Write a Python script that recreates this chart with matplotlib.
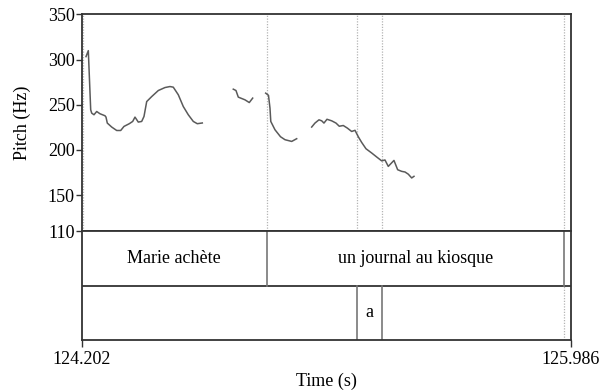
import matplotlib
matplotlib.use("Agg")
import matplotlib.pyplot as plt

plt.rcParams['font.family'] = ['Liberation Serif', 'DejaVu Serif']

t_start, t_end = 124.202, 125.986

# pitch track, one list per voiced stretch
seg1_t = [124.2177, 124.2261, 124.2348, 124.2385, 124.2468, 124.2567, 124.2687, 124.2869,
          124.2906, 124.2953, 124.3114, 124.3296, 124.3442, 124.3562, 124.3755, 124.3879,
          124.3963, 124.4083, 124.4207, 124.4291, 124.4390, 124.4572, 124.4813, 124.5057,
          124.5239, 124.5359, 124.5542, 124.5724, 124.5906, 124.6089, 124.6234, 124.6417]
seg1_f = [303.2, 309.8, 244.4, 240.7, 238.9, 242.5, 240.0, 237.8,
          236.3, 229.7, 225.3, 221.5, 221.5, 226.0, 229.0, 231.5,
          236.3, 230.8, 231.5, 237.0, 253.5, 259.0, 265.7, 269.0,
          270.1, 269.4, 261.0, 248.0, 238.9, 231.5, 229.0, 229.8]
seg2_t = [124.7547, 124.7645, 124.7729, 124.7973, 124.8130, 124.8254]
seg2_f = [267.2, 265.7, 258.4, 255.4, 252.4, 257.3]
seg3_t = [124.8728, 124.8830, 124.8885, 124.8914, 124.9067, 124.9268, 124.9432, 124.9676, 124.9858]
seg3_f = [262.8, 260.4, 246.2, 231.5, 222.3, 214.6, 211.3, 209.4, 212.4]
seg4_t = [125.0405, 125.0525, 125.0671, 125.0770, 125.0853, 125.0963, 125.1134, 125.1291,
          125.1411, 125.1557, 125.1703, 125.1863, 125.1984, 125.2104, 125.2228, 125.2385,
          125.2593, 125.2775, 125.2957, 125.3077, 125.3198, 125.3405, 125.3540, 125.3686,
          125.3807, 125.3927, 125.4051, 125.4135]
seg4_f = [225.3, 229.7, 233.3, 232.2, 229.7, 233.9, 232.2, 229.7,
          226.2, 227.0, 224.2, 220.4, 221.7, 214.6, 208.3, 201.3,
          196.6, 192.2, 187.9, 188.9, 181.8, 188.4, 178.1, 176.3,
          175.6, 173.2, 169.0, 170.8]
segments = [(seg1_t, seg1_f), (seg2_t, seg2_f), (seg3_t, seg3_f), (seg4_t, seg4_f)]

yticks = [110, 150, 200, 250, 300, 350]

# TextGrid tiers
tier1_bounds = [124.208, 124.877, 125.960]
tier1_labels = ["Marie achète", "un journal au kiosque"]
tier2_bounds = [125.205, 125.296]
tier2_labels = ["a"]

W, H = 601, 392
fig = plt.figure(figsize=(W / 100, H / 100), dpi=100)
left, right = 81.7 / W, 571 / W
y_top, y_110, y_tier, y_bot = 14.3, 231.3, 287.0, 340.0
fs = 13

ax = fig.add_axes([left, 1 - y_110 / H, right - left, (y_110 - y_top) / H])
tx = fig.add_axes([left, 1 - y_bot / H, right - left, (y_bot - y_110) / H])

box = '#333333'
for a in (ax, tx):
    a.set_xlim(t_start, t_end)
    for s in a.spines.values():
        s.set_color(box)
        s.set_linewidth(1.3)

# pitch panel
for b in tier1_bounds + tier2_bounds:
    ax.axvline(b, color='#b4b4b4', lw=0.9, ls=(0, (1, 1.2)))
for ts, fs_ in segments:
    ax.plot(ts, fs_, color='#5a5a5a', lw=1.1)
ax.set_ylim(110, 350)
ax.set_yticks(yticks)
ax.set_xticks([])
ax.tick_params(axis='y', direction='out', length=4, width=1, colors=box,
               labelsize=fs, labelcolor='black', pad=1)
ax.set_ylabel("Pitch (Hz)", fontsize=fs, labelpad=12)

# tier panel
tx.set_ylim(0, 2)
tx.axhline(1, color=box, lw=1.3)
tx.set_yticks([])
for b in tier1_bounds[1:]:
    tx.plot([b, b], [1, 2], color='#777777', lw=1.2)
tx.plot([tier1_bounds[-1]] * 2, [0, 1], color='#b4b4b4', lw=0.9, ls=(0, (1, 1.2)))
for b in tier2_bounds:
    tx.plot([b, b], [0, 1], color='#777777', lw=1.2)

edges1 = [t_start] + tier1_bounds[1:]
for i, lab in enumerate(tier1_labels):
    tx.text((edges1[i] + edges1[i + 1]) / 2, 1.5, lab, ha='center', va='center', fontsize=fs)
tx.text(sum(tier2_bounds) / 2, 0.5, tier2_labels[0], ha='center', va='center', fontsize=fs)

tx.set_xticks([t_start, t_end])
tx.set_xticklabels(["%.3f" % t_start, "%.3f" % t_end])
tx.tick_params(axis='x', direction='out', length=5, width=1, colors=box,
               labelsize=fs, labelcolor='black', pad=3)
tx.set_xlabel("Time (s)", fontsize=fs, labelpad=3)

fig.savefig("out.png", dpi=100)
